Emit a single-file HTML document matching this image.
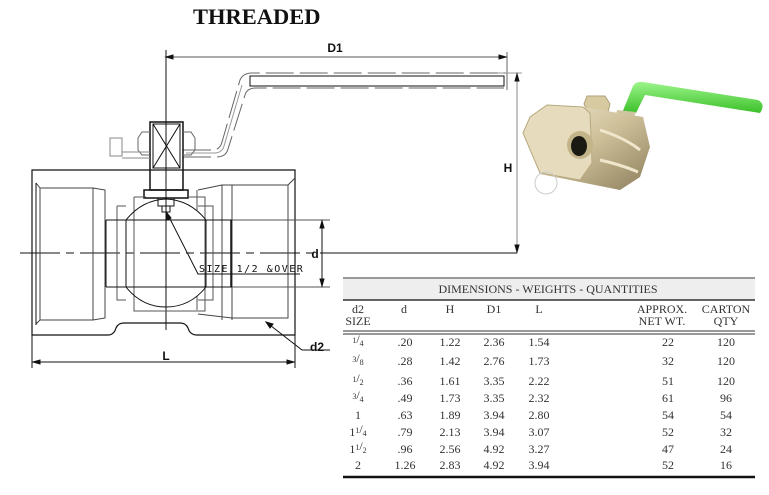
<!DOCTYPE html>
<html><head><meta charset="utf-8"><style>
html,body{margin:0;padding:0;background:#fff;width:769px;height:495px;overflow:hidden}
svg{display:block}
.t{font-family:"Liberation Serif",serif;fill:#333;font-size:12px}
.s{font-family:"Liberation Sans",sans-serif;font-weight:bold;font-size:12px;fill:#111}
</style></head><body>
<svg width="769" height="495" viewBox="0 0 769 495" xmlns="http://www.w3.org/2000/svg">
<defs>
<linearGradient id="br" x1="0" y1="0" x2="1" y2="1">
<stop offset="0" stop-color="#f2ecd6"/><stop offset="0.5" stop-color="#cdbf98"/><stop offset="1" stop-color="#8d7f5c"/></linearGradient>
<linearGradient id="gr" x1="0" y1="0" x2="0" y2="1"><stop offset="0" stop-color="#9cf58a"/><stop offset="1" stop-color="#3cc02a"/></linearGradient>
</defs>
<text x="193" y="24" font-family="Liberation Serif,serif" font-weight="bold" font-size="22.5" fill="#111">THREADED</text>

<g fill="none" stroke="#111" stroke-width="1">
<line x1="166" y1="50" x2="166" y2="330"/>
<line x1="20" y1="253" x2="340" y2="253" stroke-dasharray="40,6,8,6"/>
<line x1="340" y1="253" x2="517" y2="253"/>
<line x1="166" y1="57" x2="506" y2="57" stroke="#555"/>
<line x1="507" y1="52" x2="507" y2="90" stroke="#666"/>
<path d="M166,57 l7,-2 v4z M506,57 l-7,-2 v4z" fill="#111"/>
<line x1="517" y1="73" x2="517" y2="253" stroke="#888"/>
<line x1="495" y1="73" x2="522" y2="73" stroke="#999"/>
<path d="M517,74 l-2,7 h4z M517,252 l-2,-7 h4z" fill="#111"/>
<path d="M183,150 L212,150 Q220,150 222,142 L240,80 Q243,73 252,73 L505,73" stroke="#666" stroke-dasharray="28,6"/>
<rect x="250" y="76" width="254" height="10"/>
<path d="M183,157 L216,157 Q226,157 228,149 L245,95 Q247,88 256,88 L504,88" stroke="#666" stroke-dasharray="28,6"/>
<path d="M186,153 L214,153 Q222,153 224,146 L242,85" stroke="#999"/>
<rect x="150" y="122" width="33" height="68" stroke-width="1.5"/>
<rect x="153" y="124" width="27" height="44"/>
<path d="M153,124 L180,168 M180,124 L153,168"/>
<path d="M150,132 h-8 l-4,6 v12 l4,5 h8 M183,132 h8 l4,6 v12 l-4,5 h-8" stroke="#666"/>
<rect x="144" y="190" width="44" height="8" stroke-width="1.5"/>
<rect x="158" y="198" width="16" height="8"/>
<rect x="162" y="206" width="8" height="6"/>
<path d="M110,150 v-12 h12 v18 h-12z M122,152 h28 M122,158 h28" stroke="#888"/>
<path d="M32,170 H295 V335 H197 Q190,335 188,328 Q186,323 180,323 H124 Q118,323 116,328 Q114,335 108,335 H32Z" stroke-width="1.2"/>
<path d="M36,183 L40,188 H93 L105,190 V318 L93,320 H40 L36,324 M40,188 V320 M93,188 V320" stroke="#444"/>
<line x1="36" y1="183" x2="36" y2="325"/>
<path d="M295,178 L288,185 H222 L198,190 M288,185 V318 H232 L198,314 M222,185 V320 M232,185 V320" stroke="#444"/>
<path d="M197,190 V210 M197,310 V296" stroke="#555"/>
<path d="M117,206 H126 M117,206 V300 H126 M134,197 V311 H166 M134,197 H146" stroke="#555"/>
<path d="M198,206 H213 V300 H198 M188,197 H205 V311 H166" stroke="#555"/>
<path d="M106,220 H232 M106,287 H232 M106,220 V287" />
<line x1="232" y1="220" x2="330" y2="220" stroke="#555"/>
<line x1="232" y1="287" x2="330" y2="287" stroke="#555"/>
<line x1="231" y1="220" x2="231" y2="287" stroke-width="1.5"/>
<path d="M126,220 Q142,200 166,199 Q190,200 206,220 M126,287 Q142,307 166,307 Q190,307 206,287 M126,220 V287 M206,220 V287"/>
<line x1="322" y1="220" x2="322" y2="287"/>
<path d="M322,221 l-2,7 h4z M322,286 l-2,-7 h4z" fill="#111"/>
<path d="M167,213 L198,274 H300"/>
<path d="M167,213 l0,7 l4,-2z" fill="#111"/>
<line x1="32" y1="335" x2="32" y2="368"/>
<line x1="295" y1="335" x2="295" y2="368"/>
<line x1="32" y1="362" x2="295" y2="362"/>
<path d="M33,362 l7,-2 v4z M294,362 l-7,-2 v4z" fill="#111"/>
<path d="M266,322 L302,350 H330"/>
<path d="M266,322 l4,6 l3,-4z" fill="#111"/>
</g>
<text x="335" y="52" class="s" text-anchor="middle">D1</text>
<text x="508" y="172" class="s" text-anchor="middle">H</text>
<text x="315" y="258" class="s" text-anchor="middle">d</text>
<text x="166" y="360" class="s" text-anchor="middle">L</text>
<text x="317" y="351" class="s" text-anchor="middle">d2</text>
<text x="199" y="272" font-family="DejaVu Sans Mono,monospace" font-size="10" fill="#111" letter-spacing="1.5">SIZE 1/2 &amp;OVER</text>

<g>
<path d="M622,113 L633,86 Q636,81 643,82 L758,100 Q766,104 760,113 L645,95 L636,113Z" fill="url(#gr)"/>
<path d="M617,110 L636,112 L634,117 L616,116Z" fill="#cfc4a0"/>
<path d="M587,96 L605,96 L610,104 L608,112 L588,112 L584,104Z" fill="#d8caa0" stroke="#b0a27c"/>
<path d="M547,105 L583,107 L643,117 L650,147 L640,177 L620,190 L580,182 L540,174 L523,133 L530,117Z" fill="url(#br)"/>
<path d="M523,133 L530,117 L547,105 L583,107 L590,113 L592,163 L580,180 L540,173Z" fill="#e6dcbd" stroke="#b8a97f"/>
<path d="M600,130 Q625,138 640,150 M600,160 Q622,165 638,172" stroke="#efe6cc" stroke-width="3" fill="none"/>
<ellipse cx="580" cy="145" rx="13" ry="14" fill="#c4b48a"/>
<ellipse cx="579" cy="146" rx="8" ry="10" fill="#1a1a12"/>
<circle cx="546" cy="183" r="11" fill="none" stroke="#ccc"/>
</g>

<rect x="343" y="278" width="412" height="22" fill="#eee"/>
<line x1="343" y1="278" x2="755" y2="278" stroke="#999" stroke-width="2"/>
<line x1="343" y1="300" x2="755" y2="300" stroke="#333" stroke-width="1.5"/>
<line x1="343" y1="331" x2="755" y2="331" stroke="#333" stroke-width="1"/>
<line x1="343" y1="334" x2="755" y2="334" stroke="#333" stroke-width="1"/>
<line x1="343" y1="477" x2="755" y2="477" stroke="#111" stroke-width="2.5"/>
<g class="t" text-anchor="middle">
<text x="548" y="293">DIMENSIONS - WEIGHTS - QUANTITIES</text>
<text x="358" y="313">d2</text><text x="358" y="325">SIZE</text>
<text x="404" y="313">d</text><text x="450" y="313">H</text><text x="494" y="313">D1</text><text x="539" y="313">L</text>
<text x="662" y="313">APPROX.</text><text x="662" y="325">NET WT.</text>
<text x="726" y="313">CARTON</text><text x="726" y="325">QTY</text>
</g>
<g class="t" text-anchor="middle">
<g><text x="358" y="346"><tspan font-size="8" dy="-3">1</tspan><tspan>/</tspan><tspan font-size="8" dy="3">4</tspan></text><text x="405" y="346">.20</text><text x="450" y="346">1.22</text><text x="494" y="346">2.36</text><text x="539" y="346">1.54</text><text x="668" y="346">22</text><text x="726" y="346">120</text></g>
<g><text x="358" y="365"><tspan font-size="8" dy="-3">3</tspan><tspan>/</tspan><tspan font-size="8" dy="3">8</tspan></text><text x="405" y="365">.28</text><text x="450" y="365">1.42</text><text x="494" y="365">2.76</text><text x="539" y="365">1.73</text><text x="668" y="365">32</text><text x="726" y="365">120</text></g>
<g><text x="358" y="385"><tspan font-size="8" dy="-3">1</tspan><tspan>/</tspan><tspan font-size="8" dy="3">2</tspan></text><text x="405" y="385">.36</text><text x="450" y="385">1.61</text><text x="494" y="385">3.35</text><text x="539" y="385">2.22</text><text x="668" y="385">51</text><text x="726" y="385">120</text></g>
<g><text x="358" y="402"><tspan font-size="8" dy="-3">3</tspan><tspan>/</tspan><tspan font-size="8" dy="3">4</tspan></text><text x="405" y="402">.49</text><text x="450" y="402">1.73</text><text x="494" y="402">3.35</text><text x="539" y="402">2.32</text><text x="668" y="402">61</text><text x="726" y="402">96</text></g>
<g><text x="358" y="419">1</text><text x="405" y="419">.63</text><text x="450" y="419">1.89</text><text x="494" y="419">3.94</text><text x="539" y="419">2.80</text><text x="668" y="419">54</text><text x="726" y="419">54</text></g>
<g><text x="358" y="436">1<tspan font-size="8" dy="-3">1</tspan><tspan>/</tspan><tspan font-size="8" dy="3">4</tspan></text><text x="405" y="436">.79</text><text x="450" y="436">2.13</text><text x="494" y="436">3.94</text><text x="539" y="436">3.07</text><text x="668" y="436">52</text><text x="726" y="436">32</text></g>
<g><text x="358" y="453">1<tspan font-size="8" dy="-3">1</tspan><tspan>/</tspan><tspan font-size="8" dy="3">2</tspan></text><text x="405" y="453">.96</text><text x="450" y="453">2.56</text><text x="494" y="453">4.92</text><text x="539" y="453">3.27</text><text x="668" y="453">47</text><text x="726" y="453">24</text></g>
<g><text x="358" y="469">2</text><text x="405" y="469">1.26</text><text x="450" y="469">2.83</text><text x="494" y="469">4.92</text><text x="539" y="469">3.94</text><text x="668" y="469">52</text><text x="726" y="469">16</text></g>
</g>
</svg>
</body></html>
